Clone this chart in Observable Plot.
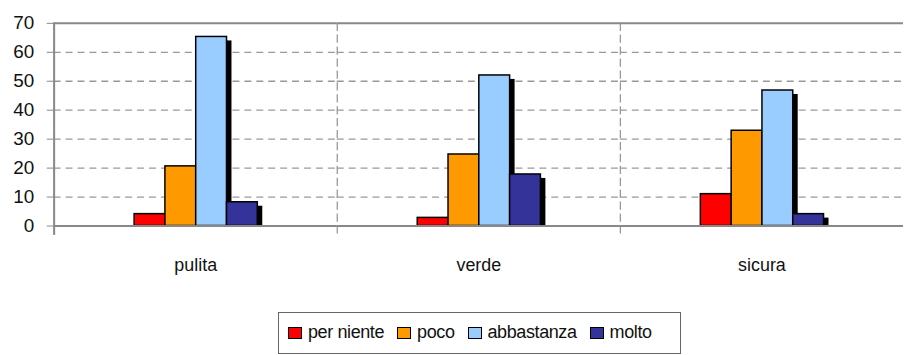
<!DOCTYPE html>
<html>
<head>
<meta charset="utf-8">
<script src="https://cdn.jsdelivr.net/npm/d3@7"></script>
<script src="https://cdn.jsdelivr.net/npm/@observablehq/plot@0.6"></script>
<style>
  html, body { margin: 0; padding: 0; background: #fff; overflow: hidden; }
  #chart svg { display: block; }
  .legend {
    margin: 9px 0 0 278px;
    width: 392px;
    height: 40px;
    border: 1px solid #666;
    display: flex;
    align-items: center;
    padding-left: 9px;
    box-sizing: content-box;
    white-space: nowrap;
    font-family: 'Liberation Sans', Arial, sans-serif;
    font-size: 18px;
    letter-spacing: -0.4px;
    color: #111;
  }
  .legend .item { display: flex; align-items: center; margin-right: 13px; flex: none; }
  .legend .sw { width: 12px; height: 10px; border: 1.5px solid #000; margin-right: 6px; }
</style>
</head>
<body>
<div id="chart"></div>
<div class="legend" id="legend"></div>
<script>
// Categories along the bottom and the four answer levels drawn as bars
const categories = ["pulita", "verde", "sicura"];
const series = ["per niente", "poco", "abbastanza", "molto"];

// Percentages per category, one array per answer level
const perNiente = [4.1, 2.8, 11.0];
const poco = [20.6, 24.7, 32.9];
const abbastanza = [65.3, 52.0, 46.8];
const molto = [8.2, 17.8, 4.1];

const colors = ["#FF0000", "#FF9900", "#99CCFF", "#333399"];
const yTicks = [0, 10, 20, 30, 40, 50, 60, 70];
const gridTicks = [10, 20, 30, 40, 50, 60];

const seriesValues = [perNiente, poco, abbastanza, molto];
const rows = [];
categories.forEach((c, i) => {
  series.forEach((s, j) => rows.push({category: c, level: s, value: seriesValues[j][i]}));
});

const font = "'Liberation Sans', Arial, sans-serif";

const chart = Plot.plot({
  width: 910,
  height: 305,
  marginLeft: 54,
  marginRight: 1,
  marginTop: 23,
  marginBottom: 78,
  style: {fontFamily: font, fontSize: "18px", color: "#111", background: "#fff"},
  fx: {domain: categories, padding: 0, label: null},
  x: {domain: series, paddingInner: 0, paddingOuter: 2.5, axis: null},
  y: {domain: [0, 70], label: null},
  color: {domain: series, range: colors},
  marks: [
    // dashed horizontal gridlines
    Plot.ruleY(gridTicks, {stroke: "#999", strokeWidth: 1.3, strokeDasharray: "7,5"}),
    // dashed separators between categories
    Plot.frame({anchor: "left", stroke: "#999", strokeWidth: 1.3, strokeDasharray: "7,5", insetBottom: -8}),
    // drop shadows
    Plot.barY(rows, {fx: "category", x: "level", y: "value", fill: "#000", dx: 5, dy: 4, insetBottom: 4}),
    // bars
    Plot.barY(rows, {fx: "category", x: "level", y: "value", fill: "level", stroke: "#000", strokeWidth: 1.5}),
    // top border and baseline
    Plot.ruleY([70], {stroke: "#888", strokeWidth: 2}),
    Plot.ruleY([0], {stroke: "#888", strokeWidth: 2}),
    // left axis line
    Plot.frame({anchor: "left", stroke: "#888", strokeWidth: 2, facetAnchor: "left", insetBottom: -8}),
    Plot.axisY(yTicks, {tickSize: 7, tickPadding: 13, stroke: "#888", fill: "#111", fontSize: 19, label: null}),
    Plot.axisFx({anchor: "bottom", tickSize: 0, tickPadding: 33, fontSize: 18, fill: "#111", label: null})
  ]
});
document.getElementById("chart").appendChild(chart);

// legend below the chart
const legend = document.getElementById("legend");
series.forEach((s, i) => {
  const item = document.createElement("div");
  item.className = "item";
  const sw = document.createElement("span");
  sw.className = "sw";
  sw.style.background = colors[i];
  const t = document.createElement("span");
  t.textContent = s;
  item.appendChild(sw);
  item.appendChild(t);
  legend.appendChild(item);
});
</script>
</body>
</html>
